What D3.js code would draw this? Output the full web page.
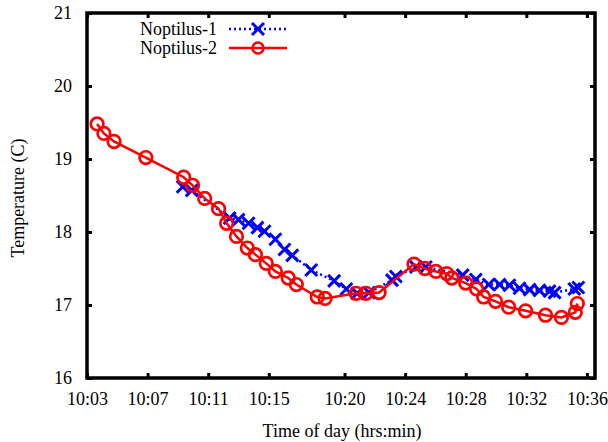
<!DOCTYPE html>
<html lang="en">
<head>
<meta charset="utf-8">
<title>Noptilus temperature</title>
<script src="https://cdn.jsdelivr.net/npm/d3@7"></script>
<style>
  body { margin: 0; background: #fff; }
  text { font-family: "Liberation Serif", "Times New Roman", serif; font-size: 18px; fill: #000; }
</style>
</head>
<body>
<script>

// time of each sample (hh:mm:ss) and temperature in C
var times1 = ["10:09:19","10:09:55","10:12:25","10:13:00","10:13:40","10:14:15","10:14:43","10:15:26",
              "10:16:02","10:16:33","10:17:48","10:19:19","10:20:07","10:20:50","10:21:37","10:23:08",
              "10:23:23","10:24:43","10:25:22","10:27:48","10:28:40","10:29:31","10:30:14","10:30:53",
              "10:31:33","10:32:13","10:32:52","10:33:32","10:33:52","10:35:10","10:35:26"];
var temps1 = [18.62, 18.57, 18.19, 18.17, 18.12, 18.06, 18.01, 17.90,
              17.76, 17.68, 17.48, 17.33, 17.22, 17.16, 17.17, 17.34,
              17.39, 17.52, 17.52, 17.41, 17.35, 17.28, 17.28, 17.27,
              17.23, 17.21, 17.20, 17.19, 17.17, 17.22, 17.24];

var times2 = ["10:03:40","10:04:07","10:04:47","10:06:53","10:09:23","10:09:58","10:10:46","10:11:41",
              "10:12:13","10:12:52","10:13:35","10:14:07","10:14:50","10:15:26","10:16:17","10:16:49",
              "10:18:12","10:18:43","10:20:46","10:21:25","10:22:17","10:24:35","10:25:18","10:26:02",
              "10:26:45","10:27:05","10:28:00","10:28:43","10:29:11","10:29:58","10:30:50","10:31:57",
              "10:33:16","10:34:19","10:35:14","10:35:22"];
var temps2 = [19.48, 19.35, 19.24, 19.02, 18.75, 18.64, 18.46, 18.32,
              18.12, 17.94, 17.78, 17.69, 17.57, 17.46, 17.37, 17.28,
              17.11, 17.09, 17.16, 17.16, 17.17, 17.56, 17.50, 17.46,
              17.43, 17.37, 17.30, 17.22, 17.11, 17.05, 16.97, 16.92,
              16.86, 16.83, 16.90, 17.02];

var xTickLabels = ["10:03","10:07","10:11","10:15","10:20","10:24","10:28","10:32","10:36"];
var yTicks = [16, 17, 18, 19, 20, 21];
var seriesNames = ["Noptilus-1", "Noptilus-2"];

var W = 608, H = 442;
var margin = {top: 13, right: 13, bottom: 64, left: 87};
var w = W - margin.left - margin.right;
var h = H - margin.top - margin.bottom;

var parseT = d3.timeParse("%H:%M:%S");
var parseM = d3.timeParse("%H:%M");
var fmt = d3.timeFormat("%H:%M");

var svg = d3.select("body").append("svg")
    .attr("width", W)
    .attr("height", H);

var g = svg.append("g").attr("transform", "translate(" + margin.left + "," + margin.top + ")");

var x = d3.scaleTime()
    .domain([parseT("10:03:00"), parseT("10:36:32")])
    .range([0, w]);
var y = d3.scaleLinear().domain([16, 21]).range([h, 0]);

var xTicks = xTickLabels.map(parseM);

// axes, ticks pointing inward
g.append("g").attr("class", "axis")
    .attr("transform", "translate(0," + h + ")")
    .call(d3.axisBottom(x).tickValues(xTicks).tickFormat(fmt).tickSizeInner(-5).tickSizeOuter(0).tickPadding(14));
g.append("g").attr("class", "axis")
    .call(d3.axisTop(x).tickValues(xTicks).tickFormat("").tickSizeInner(-5).tickSizeOuter(0));
g.append("g").attr("class", "axis")
    .call(d3.axisLeft(y).tickValues(yTicks).tickFormat(d3.format("d")).tickSizeInner(-5).tickSizeOuter(0).tickPadding(15));
g.append("g").attr("class", "axis")
    .attr("transform", "translate(" + w + ",0)")
    .call(d3.axisRight(y).tickValues(yTicks).tickFormat("").tickSizeInner(-5).tickSizeOuter(0));

g.selectAll(".axis").attr("font-family", null).attr("font-size", null);
g.selectAll(".axis .domain").remove();
g.selectAll(".axis line").attr("stroke", "#000").attr("stroke-width", 3);

// frame
g.append("rect")
    .attr("width", w).attr("height", h)
    .attr("fill", "none").attr("stroke", "#000").attr("stroke-width", 3.5);

var data1 = times1.map(function(t, i) { return {t: parseT(t), v: temps1[i]}; });
var data2 = times2.map(function(t, i) { return {t: parseT(t), v: temps2[i]}; });

var line = d3.line().x(function(d) { return x(d.t); }).y(function(d) { return y(d.v); });
var cross = "M-6,-6L6,6M-6,6L6,-6";

// Noptilus-1: dotted blue with crosses
g.append("path").datum(data1)
    .attr("d", line).attr("fill", "none")
    .attr("stroke", "#0000ff").attr("stroke-width", 2.5).attr("stroke-dasharray", "2,3");
g.selectAll(".m1").data(data1).enter().append("path")
    .attr("class", "m1")
    .attr("transform", function(d) { return "translate(" + x(d.t) + "," + y(d.v) + ")"; })
    .attr("d", cross)
    .attr("stroke", "#0000ff").attr("stroke-width", 3).attr("fill", "none");

// Noptilus-2: solid red with open circles
g.append("path").datum(data2)
    .attr("d", line).attr("fill", "none")
    .attr("stroke", "#ff0000").attr("stroke-width", 2.5);
g.selectAll(".m2").data(data2).enter().append("circle")
    .attr("class", "m2")
    .attr("cx", function(d) { return x(d.t); })
    .attr("cy", function(d) { return y(d.v); })
    .attr("r", 6.3)
    .attr("fill", "none").attr("stroke", "#ff0000").attr("stroke-width", 2.7);

// legend
var legend = svg.append("g");
legend.append("text").attr("x", 217).attr("y", 35).attr("text-anchor", "end").text(seriesNames[0]);
legend.append("line").attr("x1", 229).attr("x2", 287).attr("y1", 29).attr("y2", 29)
    .attr("stroke", "#0000ff").attr("stroke-width", 2.5).attr("stroke-dasharray", "2,3");
legend.append("path").attr("transform", "translate(258,29)").attr("d", cross)
    .attr("stroke", "#0000ff").attr("stroke-width", 3).attr("fill", "none");

legend.append("text").attr("x", 217).attr("y", 54).attr("text-anchor", "end").text(seriesNames[1]);
legend.append("line").attr("x1", 229).attr("x2", 287).attr("y1", 48).attr("y2", 48)
    .attr("stroke", "#ff0000").attr("stroke-width", 2.5);
legend.append("circle").attr("cx", 258).attr("cy", 48).attr("r", 5.5)
    .attr("fill", "none").attr("stroke", "#ff0000").attr("stroke-width", 2.5);

// axis titles
svg.append("text")
    .attr("x", 342).attr("y", 437)
    .attr("text-anchor", "middle")
    .text("Time of day (hrs:min)");
svg.append("text")
    .attr("transform", "translate(24,198) rotate(-90)")
    .attr("text-anchor", "middle")
    .text("Temperature (C)");

</script>
</body>
</html>
